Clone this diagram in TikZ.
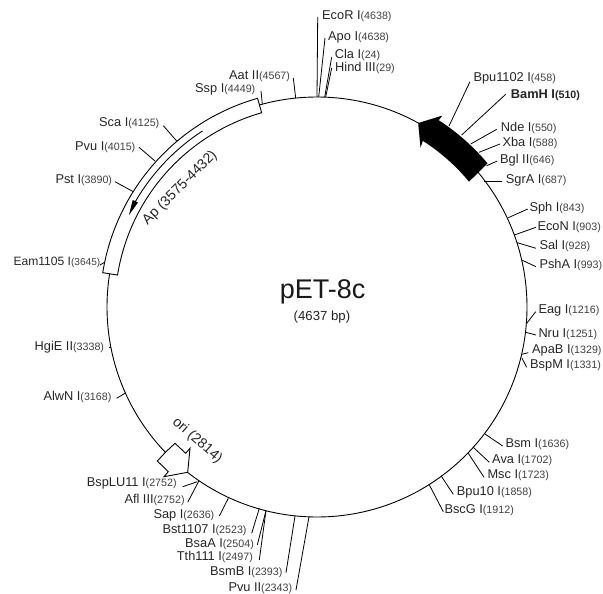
\documentclass[tikz,border=0pt]{standalone}
\usepackage{fontspec}
\setmainfont{Liberation Sans}
\newcommand{\bpn}[1]{{\fontsize{10.7}{10.7}\selectfont\color{black!75}(#1)}}
\tikzset{
  ring/.style={draw=black,line width=0.9pt},
  tick/.style={draw=black,line width=0.8pt},
  lab/.style={anchor=west,inner sep=0pt,font=\fontsize{12.8}{12.8}\selectfont,text=black!85},
  featlab/.style={inner sep=0pt,font=\fontsize{14.2}{14.2}\selectfont,text=black!85},
  featbox/.style={draw=black,line width=0.9pt,fill=white},
}
\newcommand{\site}[8]{%
  \coordinate (#1o) at (#2,#3);
  \coordinate (#1r) at (#4,#5);
  \node[lab] (#1) at (#6,#7) {#8};
  \draw[tick] (#1o) -- (#1r);}
\begin{document}
\begin{tikzpicture}[x=1pt,y=-1pt]
\useasboundingbox (0,0) rectangle (603,594);
\coordinate (c) at (317,307);
\node[circle,ring,minimum size=420pt,inner sep=0pt] (plasmid) at (c) {};
\site{ecor}{317.7}{17}{317}{97}{322}{16}{EcoR I\bpn{4638}}
\site{apo}{325}{38}{318.7}{97}{328}{37}{Apo I\bpn{4638}}
\site{cla}{331.7}{57}{324.7}{97}{334.7}{55}{Cla I\bpn{24}}
\site{hind}{331.7}{68}{325.7}{97}{335}{68}{Hind III\bpn{29}}
\site{aat}{293.3}{78}{295.7}{98}{229}{76}{Aat II\bpn{4567}}
\site{ssp}{261}{91}{262.3}{104}{195}{89}{Ssp I\bpn{4449}}
\site{sca}{163.3}{125.7}{176.7}{141}{99}{123}{Sca I\bpn{4125}}
\site{pvu}{139}{147.3}{155}{161}{75}{147}{Pvu I\bpn{4015}}
\site{pst}{115}{181.7}{133.3}{191.7}{55.3}{180}{Pst I\bpn{3890}}
\site{eam}{100}{265}{105}{262}{13.3}{262.7}{\fontsize{12.1}{12.1}\selectfont Eam1105 I{\fontsize{10.1}{10.1}\selectfont\color{black!75}(3645)}}
\site{hgie}{108.5}{347}{111}{347}{34.5}{347}{HgiE II\bpn{3338}}
\site{alwn}{116.7}{398.3}{126}{392.7}{43.3}{397}{AlwN I\bpn{3168}}
\site{bsplu}{182.7}{486.7}{197.3}{481.7}{86.7}{483}{BspLU11 I\bpn{2752}}
\site{afl}{187.7}{502.3}{199}{480.7}{124.3}{500}{Afl III\bpn{2752}}
\site{sap}{219.3}{516}{228.3}{498.3}{153.3}{515}{Sap I\bpn{2636}}
\site{bst}{251.7}{533.3}{259.3}{508.3}{162.3}{530}{Bst1107 I\bpn{2523}}
\site{bsaa}{257.3}{545}{266}{510.7}{185}{544}{BsaA I\bpn{2504}}
\site{tth}{259.3}{560}{266}{510.7}{176.7}{557}{Tth111 I\bpn{2497}}
\site{bsmb}{286}{572.7}{295}{516}{210}{572}{BsmB I\bpn{2393}}
\site{pvuii}{296}{590}{309}{516.7}{228.3}{588}{Pvu II\bpn{2343}}
\site{bscg}{443.3}{511.7}{429}{484.3}{444.3}{510}{BscG I\bpn{1912}}
\site{bputen}{453.3}{494.3}{441}{475.7}{456.7}{492}{Bpu10 I\bpn{1858}}
\site{msc}{484}{477.3}{468.3}{453.3}{487.3}{475}{Msc I\bpn{1723}}
\site{ava}{489.3}{462.3}{473.3}{447.3}{492}{460}{Ava I\bpn{1702}}
\site{bsm}{502.7}{446}{485}{434}{505.3}{444}{Bsm I\bpn{1636}}
\site{bspm}{526.7}{367.3}{521.7}{357.7}{530}{365}{BspM I\bpn{1331}}
\site{apab}{528.3}{352.7}{521.7}{354.3}{532}{350}{ApaB I\bpn{1329}}
\site{nru}{536}{335}{525.7}{332.3}{538.3}{334}{Nru I\bpn{1251}}
\site{eag}{535.7}{311.7}{526.7}{323.3}{538.3}{310}{Eag I\bpn{1216}}
\site{psha}{536}{266.7}{521.7}{260}{539.3}{264.5}{PshA I\bpn{993}}
\site{sal}{536}{248.3}{517.3}{242.7}{539.3}{245.5}{Sal I\bpn{928}}
\site{econ}{536}{227.3}{514.3}{235}{537.3}{227}{EcoN I\bpn{903}}
\site{sph}{527.7}{209}{508.3}{217.7}{529.3}{208}{Sph I\bpn{843}}
\site{sgra}{501.7}{181}{484}{181}{505.7}{180}{SgrA I\bpn{687}}
\site{bgl}{497.3}{161}{486.7}{165.7}{500}{160}{Bgl II\bpn{646}}
\site{xba}{500}{144}{479}{152.3}{502.3}{143}{Xba I\bpn{588}}
\site{nde}{496.7}{129.3}{470.7}{144}{500.7}{128}{Nde I\bpn{550}}
\site{bamh}{505.7}{94.3}{461.7}{135}{510.7}{95}{\textbf{BamH I}{\fontsize{10.7}{10.7}\selectfont\bfseries(510)}}
\site{bpu}{470}{81.7}{449}{126}{473.3}{78}{Bpu1102 I\bpn{458}}
\begin{scope}[shift={(317,307)},x=1pt,y=1pt]
  \draw[featbox] (105.9:217) arc[start angle=105.9,end angle=170.9,radius=217]
    -- (170.9:202) arc[start angle=170.9,end angle=105.9,radius=202] -- cycle;
  \draw[line width=0.9pt] (123:210) arc[start angle=123,end angle=150,radius=210];
  \fill[black] (61.2:210) -- (56.8:228.7) -- (56.9:223)
    arc[start angle=56.9,end angle=40.1,radius=223]
    -- (39.5:197) arc[start angle=39.5,end angle=57.5,radius=197]
    -- (57:190) -- cycle;
\end{scope}
\fill[black] (129,215) -- (132.7,200) -- (138,202.5) -- cycle;
\draw[featbox] (166,451.7) -- (175,443.3) -- (185.7,453.3) -- (190,448.3)
  -- (187.7,472.3) -- (164,476.7) -- (168.3,471.7) -- (157.3,461) -- cycle;
\node[featlab,rotate=45] (aplab) at (180,188) {Ap (3575-4432)};
\node[featlab,rotate=-41] (orilab) at (197.3,440.7) {ori (2814)};
\node[inner sep=0pt,font=\fontsize{27}{27}\selectfont,text=black!90] (title) at (322.7,291.7) {pET-8c};
\node[inner sep=0pt,font=\fontsize{13.2}{13.2}\selectfont,text=black!85] (size) at (322,317.3) {(4637 bp)};
\end{tikzpicture}
\end{document}
